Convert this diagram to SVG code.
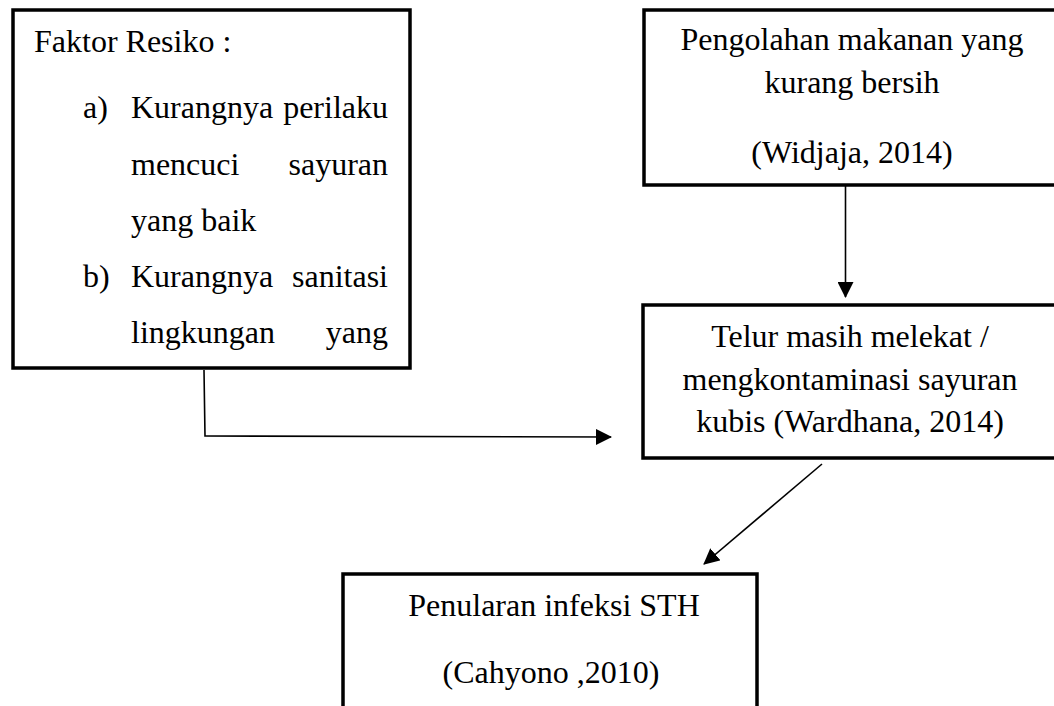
<svg xmlns="http://www.w3.org/2000/svg" width="1054" height="706" viewBox="0 0 1054 706">
<style>
.box{fill:#fff;stroke:#000;stroke-width:3.5}
.t{font-family:"Liberation Serif","Times New Roman",serif;font-size:32px;fill:#000}
.m{text-anchor:middle}
.e{text-anchor:end}
.c{fill:none;stroke:#000;stroke-width:1.6}
</style>
<defs>
<marker id="ah" markerWidth="10" markerHeight="10" refX="9.5" refY="5" orient="auto" markerUnits="userSpaceOnUse" viewBox="0 0 10 10">
<path d="M0,0 L10,5 L0,10 z" fill="#000"/>
</marker>
<marker id="ahb" markerWidth="16" markerHeight="16" refX="15" refY="8" orient="auto" markerUnits="userSpaceOnUse" viewBox="0 0 16 16">
<path d="M0,0 L16,8 L0,16 z" fill="#000"/>
</marker>
</defs>
<rect width="1054" height="706" fill="#fff"/>
<g id="connectors">
<polyline class="c" points="204,370 205,436 611,437" marker-end="url(#ahb)"/>
<line class="c" x1="845.5" y1="185" x2="845.5" y2="297" marker-end="url(#ahb)"/>
<line class="c" x1="822" y1="464" x2="704" y2="564" marker-end="url(#ahb)"/>
</g>
<g id="faktor-resiko">
<rect class="box" x="13" y="10" width="397" height="358"/>
<text class="t" x="34" y="52">Faktor Resiko :</text>
<text class="t" x="83" y="118">a)</text>
<text class="t" x="131" y="118">Kurangnya</text>
<text class="t e" x="388" y="118">perilaku</text>
<text class="t" x="131" y="175">mencuci</text>
<text class="t e" x="388" y="175">sayuran</text>
<text class="t" x="131" y="231">yang baik</text>
<text class="t" x="83" y="287">b)</text>
<text class="t" x="131" y="287">Kurangnya</text>
<text class="t e" x="388" y="287">sanitasi</text>
<text class="t" x="131" y="343">lingkungan</text>
<text class="t e" x="388" y="343">yang</text>
</g>
<g id="pengolahan">
<rect class="box" x="644" y="10" width="420" height="175"/>
<text class="t m" x="852" y="50">Pengolahan makanan yang</text>
<text class="t m" x="852" y="93">kurang bersih</text>
<text class="t m" x="852" y="163">(Widjaja, 2014)</text>
</g>
<g id="telur">
<rect class="box" x="643" y="305" width="420" height="153"/>
<text class="t m" x="850" y="347">Telur masih melekat /</text>
<text class="t m" x="850" y="390">mengkontaminasi sayuran</text>
<text class="t m" x="850" y="432">kubis (Wardhana, 2014)</text>
</g>
<g id="penularan">
<rect class="box" x="343" y="574" width="414" height="150"/>
<text class="t m" x="554" y="616">Penularan infeksi STH</text>
<text class="t m" x="551" y="683">(Cahyono ,2010)</text>
</g>
</svg>
